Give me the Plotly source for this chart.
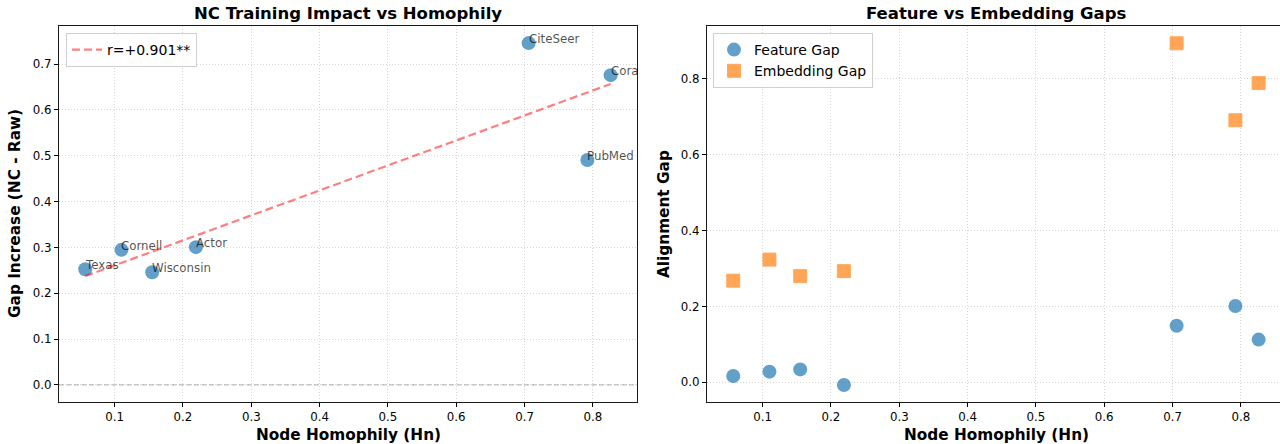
import numpy as np
import plotly.graph_objects as go

datasets = ["Texas", "Cornell", "Wisconsin", "Actor", "CiteSeer", "PubMed", "Cora"]
homophily = [0.057, 0.110, 0.155, 0.219, 0.706, 0.792, 0.826]
gap_increase = [0.2525, 0.2948, 0.246, 0.3006, 0.746, 0.491, 0.676]
feature_gap = [0.0167, 0.028, 0.034, -0.007, 0.149, 0.201, 0.1125]
embedding_gap = [0.268, 0.3235, 0.280, 0.293, 0.894, 0.691, 0.789]
r_label = "r=+0.901**"

W, H = 1280, 444
FONT = "DejaVu Sans"
BLUE = "#1f77b4"
ORANGE = "#ff7f0e"

# pixel layout
L1, R1 = 59, 637
L2, R2 = 707, 1280
TOP, BOT = 26, 402
px_per_unit = (R1 - L1) / 0.846

fig = go.Figure()

# left: scatter
fig.add_trace(go.Scatter(
    x=homophily, y=gap_increase, mode="markers",
    marker=dict(color=BLUE, size=14, opacity=0.7, line=dict(width=0)),
    showlegend=False, xaxis="x", yaxis="y", hoverinfo="skip"))

# regression line
coef = np.polyfit(homophily, gap_increase, 1)
xs = np.array([min(homophily), max(homophily)])
fig.add_trace(go.Scatter(
    x=xs, y=np.polyval(coef, xs), mode="lines",
    line=dict(color="rgba(255,0,0,0.5)", width=2.2, dash="8px,4px"),
    name=r_label, legend="legend", xaxis="x", yaxis="y"))

# right: feature & embedding
fig.add_trace(go.Scatter(
    x=homophily, y=feature_gap, mode="markers", name="Feature Gap",
    marker=dict(color=BLUE, size=14, opacity=0.7, symbol="circle", line=dict(width=0)),
    legend="legend2", xaxis="x2", yaxis="y2"))
fig.add_trace(go.Scatter(
    x=homophily, y=embedding_gap, mode="markers", name="Embedding Gap",
    marker=dict(color=ORANGE, size=13, opacity=0.7, symbol="square",
                line=dict(width=1, color="rgba(255,127,14,0.9)")),
    legend="legend2", xaxis="x2", yaxis="y2"))

# labels on left
for name, x, y in zip(datasets, homophily, gap_increase):
    fig.add_annotation(x=x, y=y, xref="x", yref="y", text=name, showarrow=False,
                       xanchor="left", yanchor="middle", xshift=-2, yshift=4,
                       font=dict(family=FONT, size=11.8, color="rgba(0,0,0,0.7)"))

# zero line on left
fig.add_shape(type="line", xref="x domain", yref="y", x0=0, x1=1, y0=0, y1=0,
              line=dict(color="rgba(128,128,128,0.5)", width=1.4, dash="5px,2.5px"))

def fx(p):
    return p / W

def fy(p):
    return 1 - p / H

axis_common = dict(
    showgrid=True, gridcolor="rgba(176,176,176,0.5)", griddash="1px,2px", gridwidth=1,
    zeroline=False, ticks="outside", ticklen=4, tickwidth=1, tickcolor="#000",
    showline=True, linecolor="#1a1a1a", linewidth=1.2,
    tickfont=dict(family=FONT, size=11.8, color="#000"), automargin=False)

ylo1, yhi1 = -0.0373, 0.7833
ylo2, yhi2 = -0.052, 0.9395
xlo = 0.0186

fig.update_layout(
    width=W, height=H,
    margin=dict(l=0, r=0, t=0, b=0),
    plot_bgcolor="white", paper_bgcolor="white",
    font=dict(family=FONT, color="#000"),
    xaxis=dict(domain=[fx(L1), fx(R1)], range=[xlo, xlo + 0.846], anchor="y",
               tickvals=[0.1, 0.2, 0.3, 0.4, 0.5, 0.6, 0.7, 0.8], tickformat=".1f",
               mirror=True, **axis_common),
    yaxis=dict(domain=[fy(BOT), fy(TOP)], range=[ylo1, yhi1], anchor="x",
               tickvals=[0, 0.1, 0.2, 0.3, 0.4, 0.5, 0.6, 0.7], tickformat=".1f",
               mirror=True, **axis_common),
    xaxis2=dict(domain=[fx(L2), fx(R2)], range=[xlo, xlo + (R2 - L2) / px_per_unit], anchor="y2",
                tickvals=[0.1, 0.2, 0.3, 0.4, 0.5, 0.6, 0.7, 0.8], tickformat=".1f",
                mirror=True, **axis_common),
    yaxis2=dict(domain=[fy(BOT), fy(TOP)], range=[ylo2, yhi2], anchor="x2",
                tickvals=[0, 0.2, 0.4, 0.6, 0.8], tickformat=".1f",
                mirror=False, **axis_common),
    legend=dict(x=fx(66), y=fy(33), xanchor="left", yanchor="top",
                bgcolor="rgba(255,255,255,0.8)", bordercolor="#d0d0d0", borderwidth=1,
                font=dict(family=FONT, size=14, color="#000"), itemwidth=30,
                tracegroupgap=0),
    legend2=dict(x=fx(713), y=fy(33), xanchor="left", yanchor="top",
                 bgcolor="rgba(255,255,255,0.8)", bordercolor="#d0d0d0", borderwidth=1,
                 font=dict(family=FONT, size=14, color="#000"), itemwidth=30,
                 tracegroupgap=0),
)

# titles and axis labels
def label(text, x, y, size, angle=0):
    fig.add_annotation(text=text, x=fx(x), y=fy(y), xref="paper", yref="paper",
                       showarrow=False, xanchor="center", yanchor="middle", textangle=angle,
                       font=dict(family=FONT, size=size, color="#000"))

label("<b>NC Training Impact vs Homophily</b>", (L1 + R1) / 2, 13, 16.5)
label("<b>Feature vs Embedding Gaps</b>", 996, 13, 16.5)
label("<b>Node Homophily (Hn)</b>", (L1 + R1) / 2, 435, 15.3)
label("<b>Node Homophily (Hn)</b>", 996, 435, 15.3)
label("<b>Gap Increase (NC - Raw)</b>", 15, (TOP + BOT) / 2, 15.3, -90)
label("<b>Alignment Gap</b>", 664, (TOP + BOT) / 2, 15.3, -90)

fig.write_html("out.html", config={"displayModeBar": False},
               post_script="document.body.style.margin='0px';document.body.style.overflow='hidden';")
